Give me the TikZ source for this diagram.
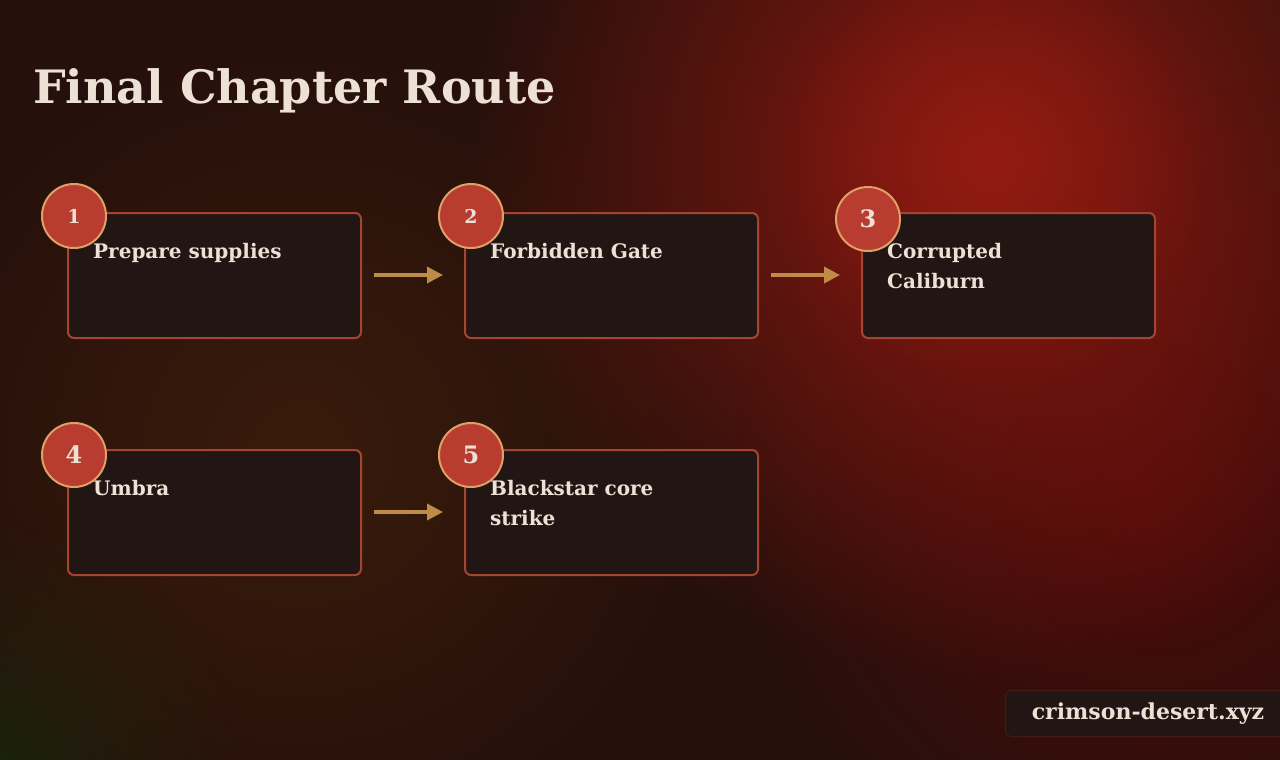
\documentclass[tikz,border=0pt]{standalone}
\usepackage{fontspec}
\setmainfont{DejaVu Serif}
\usetikzlibrary{fadings,arrows.meta}
\tikzfading[name=glowfade,inner color=transparent!0,outer color=transparent!100]
\definecolor{bgbase}{RGB}{38,16,12}
\definecolor{glow}{RGB}{140,24,16}
\definecolor{glowin}{RGB}{150,30,20}
\definecolor{amber}{RGB}{70,35,10}
\definecolor{wine}{RGB}{85,10,10}
\definecolor{boxfill}{RGB}{34,22,20}
\definecolor{boxline}{RGB}{165,68,48}
\definecolor{badge}{RGB}{185,60,48}
\definecolor{badgeline}{RGB}{222,160,100}
\definecolor{arrowc}{RGB}{190,140,70}
\definecolor{txt}{RGB}{236,225,212}
\definecolor{moss}{RGB}{20,45,15}
\tikzset{
 stepbox/.style={draw=boxline,line width=2pt,fill=boxfill,rounded corners=6pt,minimum width=293pt,minimum height=125pt,anchor=north west},
 badgec/.style={circle,draw=badgeline,line width=2pt,fill=badge,minimum size=64pt,inner sep=0pt,font=\bfseries\fontsize{24}{24}\selectfont,text=txt},
 lbl/.style={anchor=north west,align=left,text=txt,font=\bfseries\fontsize{20}{30}\selectfont,inner sep=0pt},
 flow/.style={draw=arrowc,line width=3.5pt,-{Triangle[length=16pt,width=16pt]}}
}
\begin{document}
\begin{tikzpicture}[x=1pt,y=-1pt]
\useasboundingbox (0,0) rectangle (1280,760);
\fill[bgbase] (0,0) rectangle (1280,760);
\fill[moss,opacity=0.6,path fading=glowfade] (0,760) circle (240);
\fill[amber,opacity=0.6,path fading=glowfade] (300,450) circle (420);
\fill[wine,opacity=0.8,path fading=glowfade] (1150,500) circle (420);
\fill[glow,path fading=glowfade] (990,160) circle (520);
\fill[glowin,opacity=0.6,path fading=glowfade] (990,160) circle (220);
\node[anchor=west,text=txt,font=\bfseries\fontsize{46}{46}\selectfont,inner sep=0pt] (title) at (33,91) {Final Chapter Route};
\node[stepbox] (b1) at (67,212) {};
\node[stepbox] (b2) at (464,212) {};
\node[stepbox] (b3) at (861,212) {};
\node[stepbox] (b4) at (67,449) {};
\node[stepbox] (b5) at (464,449) {};
\node[lbl] (t1) at (93,243) {Prepare supplies};
\node[lbl] (t2) at (490,243) {Forbidden Gate};
\node[lbl] (t3) at (887,243) {Corrupted\\Caliburn};
\node[lbl] (t4) at (93,480) {Umbra};
\node[lbl] (t5) at (490,480) {Blackstar core\\strike};
\node[badgec,font=\bfseries\fontsize{19}{19}\selectfont] (c1) at (74,216) {1};
\node[badgec,font=\bfseries\fontsize{19}{19}\selectfont] (c2) at (471,216) {2};
\node[badgec] (c3) at (868,219) {3};
\node[badgec] (c4) at (74,455) {4};
\node[badgec] (c5) at (471,455) {5};
\coordinate (a1) at (374,275); \coordinate (a2) at (443,275);
\coordinate (a3) at (771,275); \coordinate (a4) at (840,275);
\coordinate (a5) at (374,512); \coordinate (a6) at (443,512);
\draw[flow] (a1) -- (a2);
\draw[flow] (a3) -- (a4);
\draw[flow] (a5) -- (a6);
\node[draw=boxline!40!black,fill=boxfill,rounded corners=5pt,line width=1pt,minimum width=285pt,minimum height=46pt,anchor=north west,text=txt,font=\bfseries\fontsize{22}{22}\selectfont] (wm) at (1005,690) {crimson-desert.xyz};
\end{tikzpicture}
\end{document}
